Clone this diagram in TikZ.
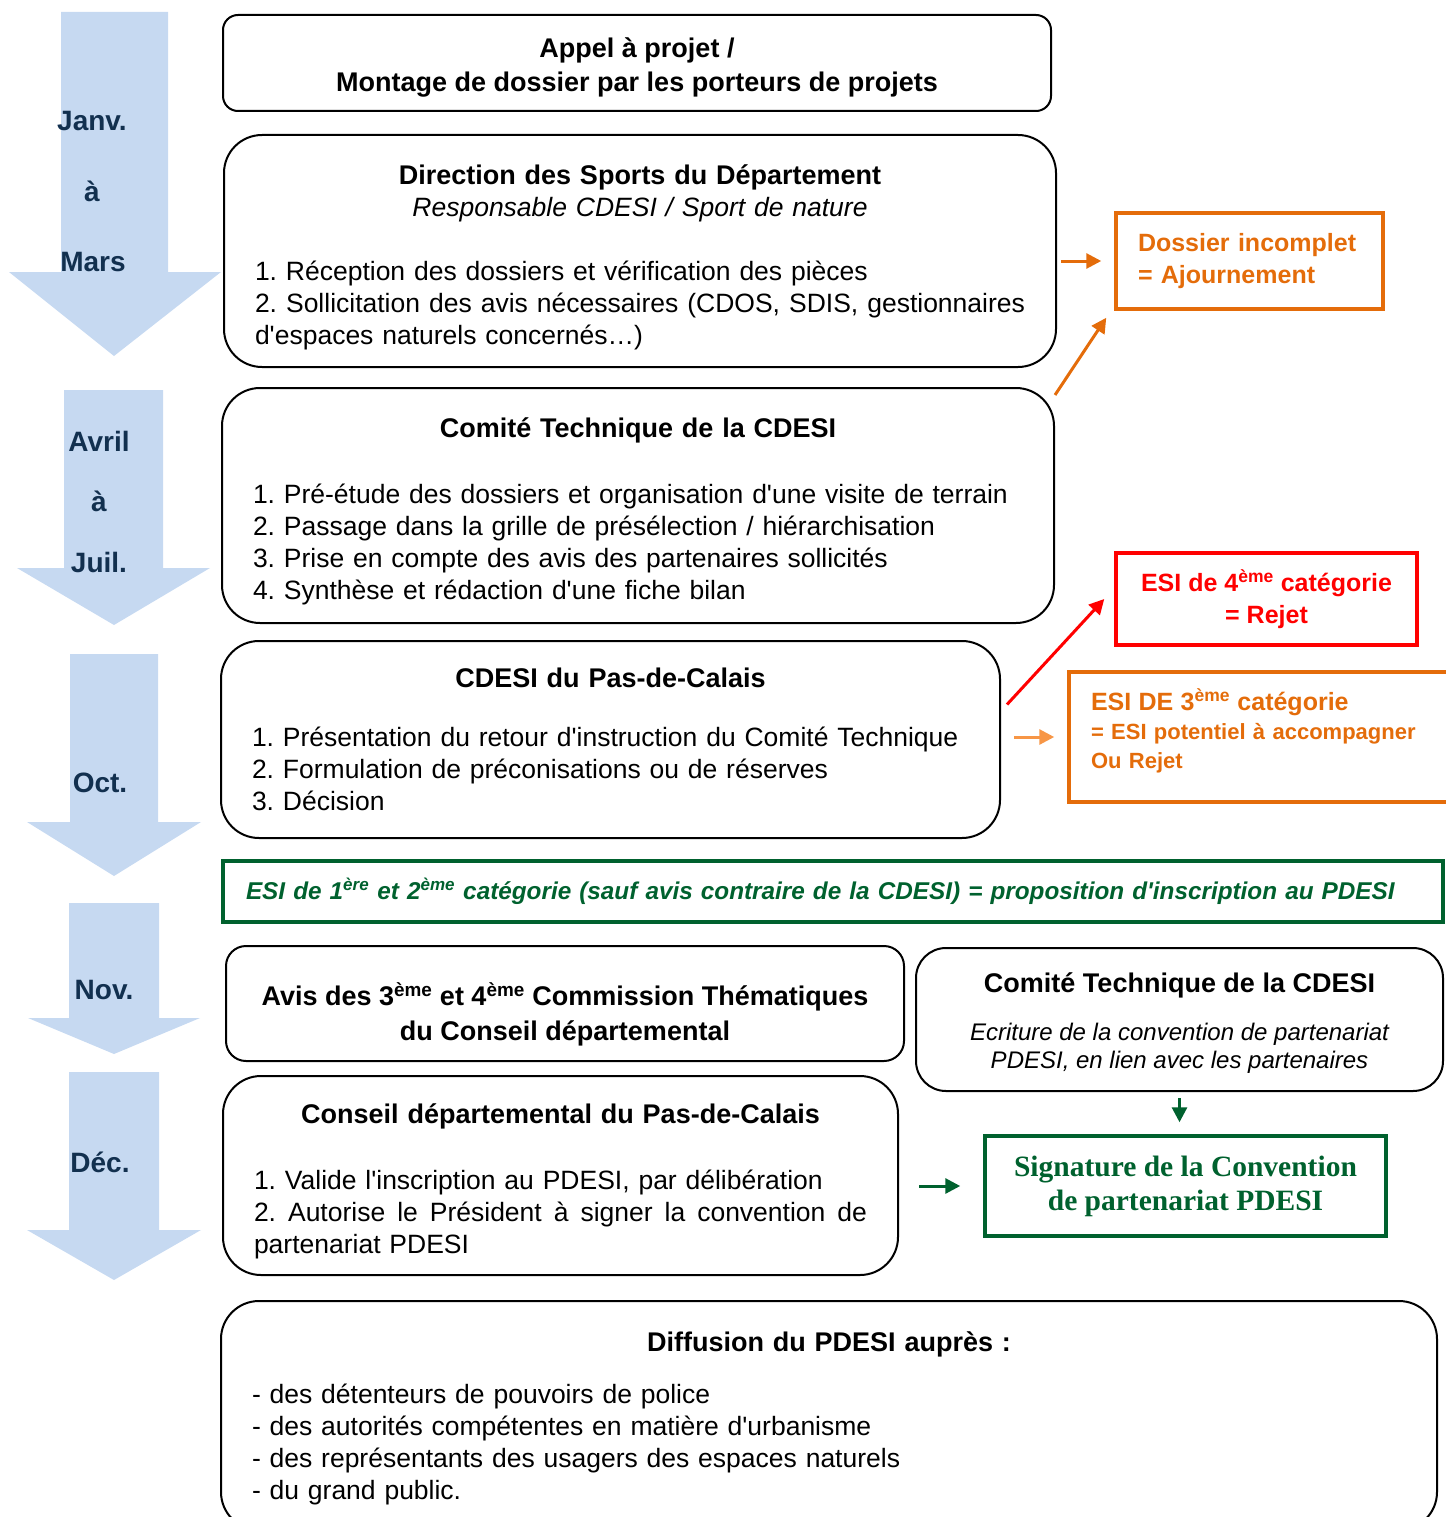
\documentclass[tikz,border=0pt]{standalone}
\usepackage{fontspec}
\setmainfont{Liberation Sans}
\newfontfamily\sigfont{Liberation Serif}
\usetikzlibrary{arrows.meta,calc}
\definecolor{fleche}{HTML}{C6D9F1}
\definecolor{mois}{HTML}{12304F}
\definecolor{orangeA}{HTML}{E46C0A}
\definecolor{orangeB}{HTML}{F79646}
\definecolor{vertF}{HTML}{00612E}
\newcommand{\titre}[2][0pt]{\makebox[\linewidth][c]{\rule{0pt}{\dimexpr 20pt+#1\relax}\fontsize{27}{32}\selectfont\bfseries #2}}
\newcommand{\sous}[1]{\makebox[\linewidth][c]{\itshape #1}}
\newcommand{\justi}[1]{\makebox[\linewidth][s]{\spaceskip=7pt plus 20pt\relax #1}}
\newcommand{\eme}{\textsuperscript{ème}}
\newcommand{\apo}{\textquotesingle}
\frenchspacing

\begin{document}
\begin{tikzpicture}[x=1pt,y=-1pt]
\path [use as bounding box] (0,0) rectangle (1445,1517);
\tikzstyle{etape} = [draw, line width=2pt, rounded corners=38pt, inner xsep=31pt, inner ysep=0pt, align=left, font=\fontsize{26.5}{32}\selectfont]
\tikzstyle{moislab} = [text=mois, font=\fontsize{28}{30}\selectfont\bfseries]
\tikzstyle{issue} = [draw, line width=3.5pt, inner xsep=22pt, inner ysep=0pt, font=\fontsize{25}{32}\selectfont\bfseries]
\tikzstyle{fl} = [line width=3pt, -{Triangle[length=15pt,width=15pt]}]
\fill[fleche] (61,12) -- (168,12) -- (168,272) -- (221,272) -- (114,356) -- (9,272) -- (61,272) -- cycle;
\fill[fleche] (64,390) -- (163,390) -- (163,568) -- (210,568) -- (114,625) -- (17,568) -- (64,568) -- cycle;
\fill[fleche] (70,654) -- (158,654) -- (158,822) -- (201,822) -- (114,876) -- (27,822) -- (70,822) -- cycle;
\fill[fleche] (69,903) -- (159,903) -- (159,1018) -- (200,1018) -- (114,1054) -- (28,1018) -- (69,1018) -- cycle;
\fill[fleche] (69,1072) -- (159,1072) -- (159,1230) -- (201,1230) -- (114,1280) -- (27,1230) -- (69,1230) -- cycle;
\node[moislab] (janv) at (92,121) {Janv.};
\node[moislab] (a1) at (92,191) {à};
\node[moislab] (mars) at (93,262) {Mars};
\node[moislab] (avril) at (99,441) {Avril};
\node[moislab] (a2) at (99,501) {à};
\node[moislab] (juil) at (99,562) {Juil.};
\node[moislab] (oct) at (100,783) {Oct.};
\node[moislab] (nov) at (104,990) {Nov.};
\node[moislab] (dec) at (100,1162) {Déc.};

\node[etape, rounded corners=15pt, minimum width=828pt, minimum height=96pt, align=center, font=\fontsize{27}{34}\selectfont\bfseries] (appel) at (637,63) {\rule{0pt}{28pt}Appel à projet /\\Montage de dossier par les porteurs de projets};
\node[etape, text width=770pt, minimum height=232pt] (dir) at (640,251) {\titre[13pt]{Direction des Sports du Département}\\
\sous{Responsable CDESI / Sport de nature}\\[32pt]
1. Réception des dossiers et vérification des pièces\\
\justi{2. Sollicitation des avis nécessaires (CDOS, SDIS, gestionnaires}\\
d\apo espaces naturels concernés…)};
\node[etape, text width=770pt, minimum height=235pt] (comite) at (638,505.5) {\titre[12pt]{Comité Technique de la CDESI}\\[34pt]
1. Pré-étude des dossiers et organisation d\apo une visite de terrain\\
2. Passage dans la grille de présélection / hiérarchisation\\
3. Prise en compte des avis des partenaires sollicités\\
4. Synthèse et rédaction d\apo une fiche bilan};
\node[etape, text width=717pt, minimum height=197pt] (cdesi) at (610.5,739.5) {\titre{CDESI du Pas-de-Calais}\\[27pt]
1. Présentation du retour d\apo instruction du Comité Technique\\
2. Formulation de préconisations ou de réserves\\
3. Décision};
\node[draw=vertF, line width=4.5pt, minimum width=1220pt, minimum height=61pt, inner xsep=21pt, text width=1174pt, align=left, text=vertF, font=\fontsize{24.3}{30}\selectfont\bfseries\itshape] (inscr) at (833,891.5) {ESI de 1\textsuperscript{ère} et 2\eme{} catégorie (sauf avis contraire de la CDESI) = proposition d\apo inscription au PDESI};
\node[etape, rounded corners=20pt, minimum width=678pt, minimum height=115pt, align=center, font=\fontsize{27}{35}\selectfont\bfseries] (avis) at (565,1003.5) {\rule{0pt}{45pt}Avis des 3\eme{} et 4\eme{} Commission Thématiques\\du Conseil départemental};
\node[etape, rounded corners=30pt, minimum width=527pt, minimum height=143pt, inner xsep=10pt, align=center, font=\fontsize{24}{28}\selectfont\itshape] (comite2) at (1179.5,1019.5) {{\fontsize{27}{30}\selectfont\bfseries\upshape\rule{0pt}{27pt}Comité Technique de la CDESI}\\[20pt]
Ecriture de la convention de partenariat\\PDESI, en lien avec les partenaires};
\node[etape, text width=613pt, minimum height=199pt] (conseil) at (560.5,1175.5) {\titre[12pt]{Conseil départemental du Pas-de-Calais}\\[34pt]
1. Valide l\apo inscription au PDESI, par délibération\\
\justi{2. Autorise le Président à signer la convention de}\\
partenariat PDESI};
\node[etape, text width=1154pt, minimum height=229pt] (diff) at (829,1415.5) {\titre[6pt]{Diffusion du PDESI auprès :}\\[20pt]
- des détenteurs de pouvoirs de police\\
- des autorités compétentes en matière d\apo urbanisme\\
- des représentants des usagers des espaces naturels\\
- du grand public.};

\node[issue, draw=orangeA, text=orangeA, minimum width=267pt, minimum height=96pt, text width=223pt, align=left] (ajourn) at (1249.5,261) {Dossier incomplet\\= Ajournement};
\node[issue, draw=red, text=red, minimum width=301pt, minimum height=92pt, align=center] (rejet) at (1266.5,599) {ESI de 4\eme{} catégorie\\= Rejet};
\node[issue, draw=orangeA, text=orangeA, minimum width=381pt, minimum height=130pt, text width=337pt, align=left, font=\fontsize{22}{29}\selectfont\bfseries] (accomp) at (1259.5,737) {{\fontsize{25}{30}\selectfont ESI DE 3\eme{} catégorie}\\= ESI potentiel à accompagner\\Ou Rejet\rule[-17pt]{0pt}{17pt}};
\node[draw=vertF, line width=3.5pt, minimum width=401pt, minimum height=100pt, inner sep=0pt, align=center, text=vertF, font=\sigfont\fontsize{29.5}{34}\selectfont\bfseries] (signature) at (1185.5,1186) {Signature de la Convention\\de partenariat PDESI};

\draw[fl, orangeA, shorten <=4pt, shorten >=13pt] (ajourn.west -| dir.east) -- (ajourn.west);
\draw[fl, orangeA] ([yshift=-8pt]comite.north east) -- ([xshift=-8pt,yshift=-7pt]ajourn.south west);
\draw[fl, red] ([xshift=6pt,yshift=35pt]cdesi.east) -- ([xshift=-10pt]rejet.west);
\draw[fl, orangeB, shorten <=13pt, shorten >=13pt] (accomp.west -| cdesi.east) -- (accomp.west);
\draw[fl, vertF, shorten <=6pt, shorten >=12pt] (comite2.south) -- (comite2.south |- signature.north);
\draw[fl, vertF, shorten <=20pt, shorten >=23pt] (signature.west -| conseil.east) -- (signature.west);
\end{tikzpicture}
\end{document}
